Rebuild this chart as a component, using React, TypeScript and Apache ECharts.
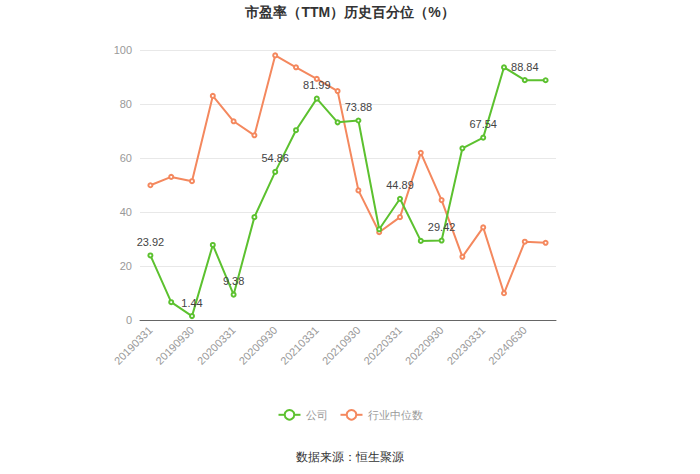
import React, { useEffect, useRef } from "react";
import * as echarts from "echarts";

const categories = [
  "20190331", "20190630", "20190930", "20191231",
  "20200331", "20200630", "20200930", "20201231",
  "20210331", "20210630", "20210930", "20211231",
  "20220331", "20220630", "20220930", "20221231",
  "20230331", "20230930", "20240630", "20240930",
];
const companyValues = [
  23.92, 6.6, 1.44, 27.8, 9.38, 38.1, 54.86, 70.3, 81.99, 73.2,
  73.88, 33.6, 44.89, 29.3, 29.42, 63.6, 67.54, 93.6, 88.84, 88.8,
];
const industryValues = [
  49.9, 53.0, 51.4, 83.0, 73.6, 68.4, 98.0, 93.6, 89.3, 84.8,
  48.0, 32.5, 38.1, 61.9, 44.4, 23.4, 34.3, 9.9, 29.0, 28.6,
];
const yTicks = { min: 0, max: 100, interval: 20 };

export default function App() {
  const ref = useRef<HTMLDivElement>(null);
  useEffect(() => {
    document.body.style.margin = "0";
    if (!ref.current) return;
    const chart = echarts.init(ref.current, undefined, { renderer: "svg" });
    chart.setOption({
      animation: false,
      backgroundColor: "#fff",
      title: {
        text: "市盈率（TTM）历史百分位（%）",
        left: "center",
        top: 0,
        textStyle: { fontSize: 14, fontWeight: "bold", color: "#333" },
      },
      legend: {
        top: 404,
        left: "center",
        itemWidth: 22,
        itemHeight: 12,
        itemGap: 12,
        textStyle: { fontSize: 11, color: "#999" },
        data: ["公司", "行业中位数"],
      },
      graphic: [
        {
          type: "text",
          left: "center",
          top: 451,
          style: { text: "数据来源：恒生聚源", fontSize: 12, fill: "#333" },
        },
      ],
      grid: { left: 140, right: 144, top: 50, bottom: 154 },
      xAxis: {
        type: "category",
        data: categories,
        boundaryGap: true,
        axisLine: { lineStyle: { color: "#666" } },
        axisTick: { alignWithLabel: true, interval: 1, lineStyle: { color: "#666" } },
        axisLabel: { interval: 1, rotate: 45, color: "#999", fontSize: 11 },
      },
      yAxis: {
        type: "value",
        min: yTicks.min,
        max: yTicks.max,
        interval: yTicks.interval,
        axisLine: { show: false },
        axisTick: { show: false },
        axisLabel: { color: "#999", fontSize: 11 },
        splitLine: { lineStyle: { color: "#e8e8e8" } },
      },
      series: [
        {
          name: "公司",
          type: "line",
          data: companyValues,
          symbol: "emptyCircle",
          symbolSize: 4,
          itemStyle: { color: "#5cc12f" },
          lineStyle: { width: 2, color: "#5cc12f" },
          label: {
            show: true,
            position: "top",
            color: "#444",
            fontSize: 11,
            formatter: (p: any) => (p.dataIndex % 2 === 0 ? p.value.toFixed(2) : ""),
          },
          z: 3,
        },
        {
          name: "行业中位数",
          type: "line",
          data: industryValues,
          symbol: "emptyCircle",
          symbolSize: 4,
          itemStyle: { color: "#f4885e" },
          lineStyle: { width: 2, color: "#f4885e" },
          z: 2,
        },
      ],
    });
    return () => chart.dispose();
  }, []);
  return <div ref={ref} style={{ width: 700, height: 474 }} />;
}
